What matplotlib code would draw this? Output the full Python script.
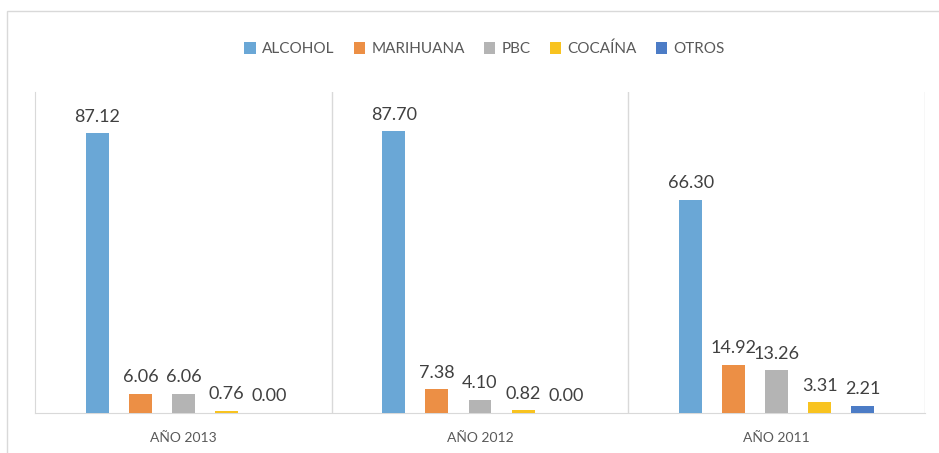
import numpy as np
import matplotlib
matplotlib.use("Agg")
import matplotlib.pyplot as plt
from matplotlib.patches import Rectangle

# data
years = ["AÑO 2013", "AÑO 2012", "AÑO 2011"]
series = ["ALCOHOL", "MARIHUANA", "PBC", "COCAÍNA", "OTROS"]
alcohol = [87.12, 87.70, 66.30]
marihuana = [6.06, 7.38, 14.92]
pbc = [6.06, 4.10, 13.26]
cocaina = [0.76, 0.82, 3.31]
otros = [0.00, 0.00, 2.21]
colors = ["#6aa7d6", "#ec8f45", "#b4b4b4", "#f8c320", "#4c7cc6"]

plt.rcParams['font.family'] = ['Lato', 'DejaVu Sans']

fig = plt.figure(figsize=(9.39, 4.53), dpi=100)
ax = fig.add_axes([35/939, 40/453, 890/939, 321/453])

# outer chart frame (left/top visible)
fig.patches.append(Rectangle((7/939, -0.1), 1.2, (453-11)/453 + 0.1,
                             transform=fig.transFigure, fill=False,
                             edgecolor="#d9d9d9", linewidth=1))

x = np.arange(len(years))
step = 0.145
width = 0.0775
all_vals = [alcohol, marihuana, pbc, cocaina, otros]
for i, (name, vals) in enumerate(zip(series, all_vals)):
    pos = x + (i - 2) * step
    ax.bar(pos, vals, width, color=colors[i], label=name, zorder=3)
    for px, v in zip(pos, vals):
        ax.annotate("%.2f" % v, (px, v), xytext=(0, 8.5), textcoords="offset points",
                    ha="center", va="baseline", fontsize=13, color="#404040")

ax.set_xlim(-0.5, 2.5)
ax.set_ylim(0, 100)
ax.set_yticks([])
ax.set_xticks(x)
ax.set_xticklabels(years, fontsize=10, color="#595959")
ax.tick_params(axis="x", length=0, pad=14)

for s in ["top", "right"]:
    ax.spines[s].set_visible(False)
for s in ["left", "bottom"]:
    ax.spines[s].set_color("#d9d9d9")
for b in [0.5, 1.5, 2.5]:
    ax.axvline(b, color="#d9d9d9", linewidth=1, zorder=1)

leg = ax.legend(loc="center", bbox_to_anchor=(0.505, (453-49-40)/321), ncol=5, frameon=False,
                fontsize=11, handlelength=0.75, handleheight=0.75,
                handletextpad=0.4, columnspacing=1.25)
for t in leg.get_texts():
    t.set_color("#595959")

fig.savefig("out.png", dpi=100)
